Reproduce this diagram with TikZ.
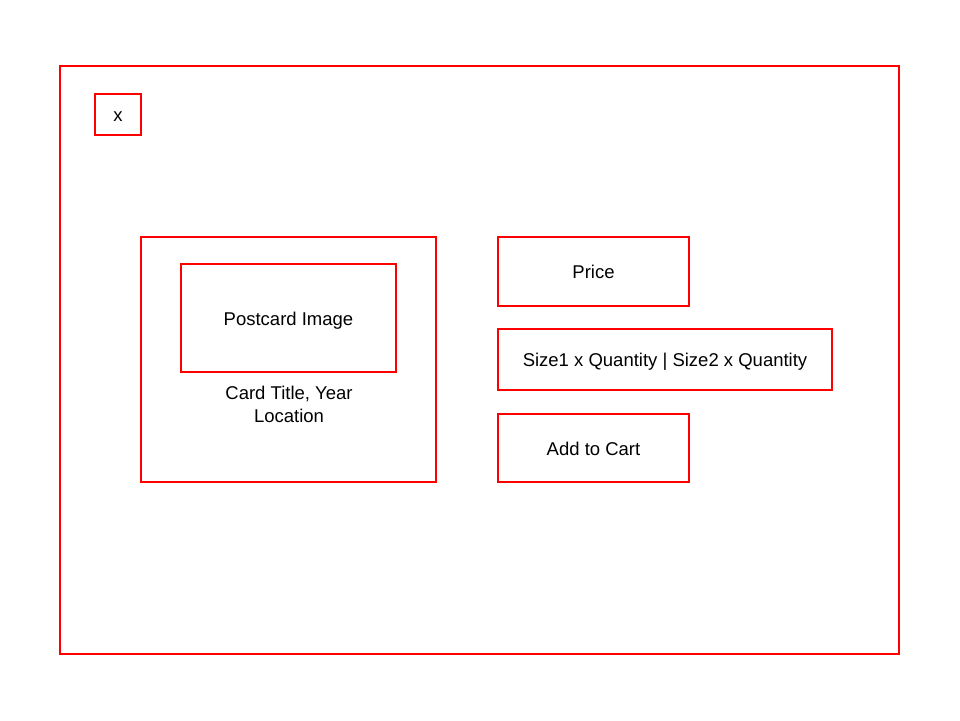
\documentclass[tikz,border=0pt]{standalone}
\usepackage{fontspec}
\setmainfont{Liberation Sans}
\usepackage{tikz}
\usetikzlibrary{positioning}

\tikzset{
  box/.style={draw=red, line width=2.8pt, inner sep=0pt, text height=14.5pt, text depth=0pt, font=\fontsize{18.5}{22}\selectfont},
  label text/.style={align=center, font=\fontsize{18.5}{23}\selectfont}
}

\begin{document}
\begin{tikzpicture}[x=1pt, y=-1pt]
          \useasboundingbox (0, 0) rectangle (960, 720);
          \node[box, minimum width=839, minimum height=588] (frame) at (479.5, 360) {};
          \node[box, minimum width=46, minimum height=41] (close) at (118, 114.5) {x};
          \node[box, minimum width=295, minimum height=245] (card) at (288.5, 359.5) {};
          \node[box, minimum width=215, minimum height=108] (image) at (288.5, 318) {Postcard Image};
          \node[label text] (caption) at (289, 404.5) {Card Title, Year\\Location};
          \node[box, minimum width=191, minimum height=69] (price) at (593.5, 271.5) {Price};
          \node[box, minimum width=334, minimum height=61] (sizes) at (665, 359.5) {Size1 x Quantity | Size2 x Quantity};
          \node[box, minimum width=191, minimum height=68] (cart) at (593.5, 448) {Add to Cart};
        \end{tikzpicture}
\end{document}
